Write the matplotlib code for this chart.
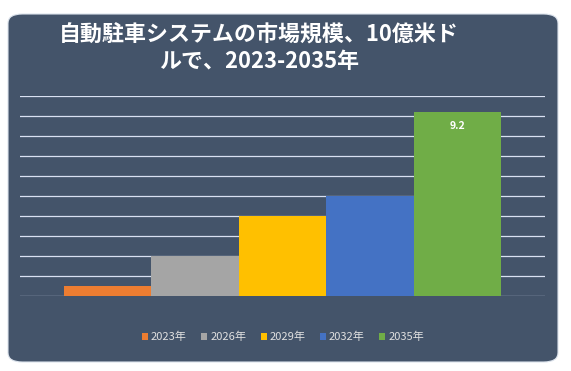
import matplotlib
matplotlib.use("Agg")
import matplotlib.pyplot as plt
from matplotlib.patches import FancyBboxPatch, Patch

plt.rcParams['font.family'] = ['Noto Sans CJK JP', 'DejaVu Sans']

# Data
years = ['2023年', '2026年', '2029年', '2032年', '2035年']
values = [0.5, 2.0, 4.0, 5.0, 9.2]
colors = ['#ED7D31', '#A5A5A5', '#FFC000', '#4472C4', '#70AD47']
title = '自動駐車システムの市場規模、10億米ド\nルで、2023-2035年'

W, H = 571, 371
fig = plt.figure(figsize=(W / 100, H / 100), dpi=100)
fig.patch.set_facecolor('white')

# Card background
card = FancyBboxPatch((8 / W, 9 / H), 550 / W, 348 / H,
                      boxstyle="round,pad=0,rounding_size=0.025",
                      transform=fig.transFigure, facecolor='#44546A',
                      edgecolor='#DCE3EC', linewidth=0.8, zorder=-5)
fig.patches.append(card)

# Title
fig.text(259 / W, 1 - 48 / H, title, ha='center', va='center',
         color='white', fontsize=15.8, fontweight='bold', linespacing=1.2)

# Plot area
ax = fig.add_axes([20 / W, 75 / H, 525 / W, 200 / H])
ax.set_facecolor('none')
x = list(range(len(years)))
bars = ax.bar(x, values, width=1.0, color=colors, zorder=3)
ax.set_xlim(-1, 5)
ax.set_ylim(0, 10)
ax.set_yticks(range(0, 11))
ax.grid(axis='y', color='#D9E1F2', linewidth=0.9, zorder=1)
for s in ax.spines.values():
    s.set_visible(False)
ax.tick_params(left=False, bottom=False, labelleft=False, labelbottom=False)

# Label on the last bar
ax.annotate(f'{values[-1]}', (x[-1], values[-1]), xytext=(0, -10),
            textcoords='offset points', ha='center', va='center',
            color='white', fontsize=7.5, fontweight='bold', zorder=4)

# Legend
handles = [Patch(facecolor=c, edgecolor='none', label=y) for c, y in zip(colors, years)]
leg = fig.legend(handles=handles, loc='center', bbox_to_anchor=(283 / W, 1 - 337 / H),
                 ncol=5, frameon=False, fontsize=8, handlelength=0.55,
                 handleheight=0.55, handletextpad=0.25, columnspacing=1.3)
for t in leg.get_texts():
    t.set_color('#E0E0E0')

fig.savefig('out.png', dpi=100, facecolor='white')
